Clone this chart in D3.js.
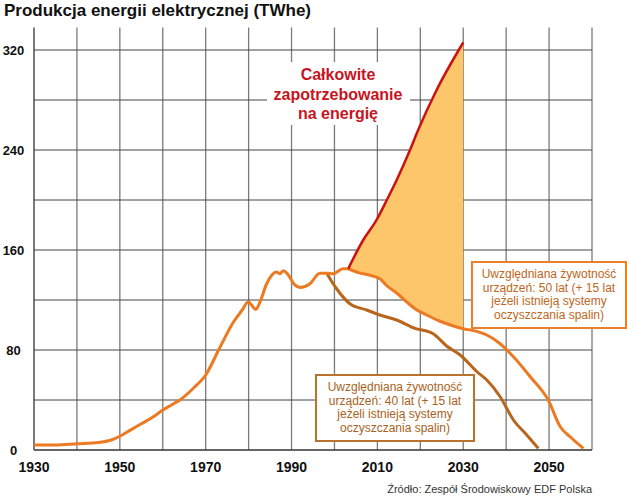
<!DOCTYPE html>
<html><head><meta charset="utf-8">
<script src="https://cdn.jsdelivr.net/npm/d3@7"></script>
<style>body{margin:0;background:#fff}svg{display:block}</style>
</head><body>
<svg id="chart" width="627" height="500"></svg>
<script>
// ---- data ----
const xTicks = [1930, 1950, 1970, 1990, 2010, 2030, 2050];
const yTicks = [0, 80, 160, 240, 320];
const yGrid = [40, 80, 120, 160, 200, 240, 280, 320];
const xGrid = [1940, 1950, 1960, 1970, 1980, 1990, 2000, 2010, 2020, 2030, 2040, 2050, 2060];

const historyYears  = [1930, 1935, 1940, 1945, 1948, 1950, 1952, 1955, 1958, 1960, 1962, 1964, 1967, 1970, 1973.3, 1976.4, 1978.5, 1979.9, 1981.7, 1982.6, 1984.2, 1986.5, 1987.3, 1988.1, 1988.9, 1990.8, 1992, 1994.3, 1996.6, 1998.2, 1999.7, 2002, 2003.2];
const historyValues = [4, 4, 5, 6, 8, 11, 15, 21, 27, 32, 36, 40, 49, 60, 82, 102, 112, 118.5, 112.5, 118, 133, 142.5, 141, 143.5, 141.5, 132, 130, 133, 141.5, 141.5, 141, 145, 145];

const life50Years  = [2003.2, 2006, 2008, 2010.6, 2012, 2014.5, 2016.8, 2019.2, 2021.5, 2024.6, 2027, 2030, 2032.4, 2035.5, 2038.6, 2041.7, 2045.6, 2049.8, 2052.6, 2054.9, 2058];
const life50Values = [145, 141.5, 140, 137, 132, 125.5, 118.5, 112, 108, 103, 100, 97, 95.5, 92, 85, 74.6, 58.6, 40, 18.6, 10.6, 1.3];

const life40Years  = [1998.2, 2000.5, 2003.6, 2007.5, 2010.6, 2014.5, 2018.6, 2023, 2026.2, 2029.3, 2033.2, 2035.5, 2038.6, 2041.7, 2044.8, 2047.5];
const life40Values = [141.5, 129, 117, 112, 108, 104, 97.5, 93, 83, 76, 62.6, 56, 42.6, 24, 12, 1.3];

const demandYears  = [2003.2, 2006.7, 2009.8, 2012.2, 2014.5, 2017.6, 2019.5, 2023.8, 2030];
const demandValues = [145, 168, 184, 200, 216, 240, 256, 288, 326];

const titleText = "Produkcja energii elektrycznej (TWhe)";
const demandLabel = ["Całkowite", "zapotrzebowanie", "na energię"];
const box50Label = ["Uwzględniana żywotność", "urządzeń: 50 lat (+ 15 lat", "jeżeli istnieją systemy", "oczyszczania spalin)"];
const box40Label = ["Uwzględniana żywotność", "urządzeń: 40 lat (+ 15 lat", "jeżeli istnieją systemy", "oczyszczania spalin)"];
const sourceText = "Źródło: Zespół Środowiskowy EDF Polska";

// ---- layout ----
const svg = d3.select("#chart");
const x = d3.scaleLinear().domain([1930, 2060]).range([34, 592]);
const y = d3.scaleLinear().domain([0, 320]).range([450, 50]);
const yTop = 338;
const font = "'Liberation Sans', Arial, sans-serif";

const toPts = (xs, vs) => xs.map((d, i) => [d, vs[i]]);
const line = d3.line().x(d => x(d[0])).y(d => y(d[1])).curve(d3.curveMonotoneX);

// grid
svg.append("g").selectAll("line").data(xGrid).join("line")
  .attr("x1", d => x(d)).attr("x2", d => x(d))
  .attr("y1", y(0)).attr("y2", y(yTop))
  .attr("stroke", "#7a7a7a").attr("stroke-width", 1.3);
svg.append("g").selectAll("line").data(yGrid).join("line")
  .attr("x1", x(1930)).attr("x2", x(2060))
  .attr("y1", d => y(d)).attr("y2", d => y(d))
  .attr("stroke", "#444").attr("stroke-width", 1);

// axes lines
svg.append("line").attr("x1", x(1930)).attr("x2", x(1930)).attr("y1", y(0)).attr("y2", y(yTop))
  .attr("stroke", "#333").attr("stroke-width", 1.3);
svg.append("line").attr("x1", x(1930)).attr("x2", x(2060)).attr("y1", y(0)).attr("y2", y(0))
  .attr("stroke", "#333").attr("stroke-width", 1.3);

// fill between demand and 50-year line
const demandPts = toPts(demandYears, demandValues);
const life50Pts = toPts(life50Years, life50Values);
const lowerPts = life50Pts.filter(d => d[0] >= 2003.2 && d[0] <= 2030);
const fillLine = d3.line().x(d => x(d[0])).y(d => y(d[1])).curve(d3.curveLinear);
const upperPath = line(demandPts);
const lowerPath = line(lowerPts.slice().reverse());
svg.append("path")
  .attr("d", upperPath + "L" + lowerPath.slice(1) + "Z")
  .attr("fill", "#fdc66a").attr("stroke", "none");

// lines
svg.append("path").attr("d", line(toPts(life40Years, life40Values)))
  .attr("fill", "none").attr("stroke", "#b8661c").attr("stroke-width", 3);
svg.append("path").attr("d", line(toPts(historyYears, historyValues)))
  .attr("fill", "none").attr("stroke", "#ec7a22").attr("stroke-width", 3).attr("stroke-linejoin", "round");
svg.append("path").attr("d", line(life50Pts))
  .attr("fill", "none").attr("stroke", "#ec7a22").attr("stroke-width", 3).attr("stroke-linejoin", "round");
svg.append("path").attr("d", line(demandPts))
  .attr("fill", "none").attr("stroke", "#cc1111").attr("stroke-width", 2.5);

// tick labels
svg.append("g").selectAll("text").data(yTicks).join("text")
  .attr("x", 13.5).attr("y", d => y(d) + 5)
  .attr("text-anchor", "middle").attr("font-family", font).attr("font-weight", "bold")
  .attr("font-size", 13).attr("fill", "#111").text(d => d);
svg.append("g").selectAll("text").data(xTicks).join("text")
  .attr("x", d => x(d)).attr("y", 472)
  .attr("text-anchor", "middle").attr("font-family", font).attr("font-weight", "bold")
  .attr("font-size", 14).attr("fill", "#111").text(d => d);

// title
svg.append("text").attr("x", 4).attr("y", 16).attr("font-family", font).attr("font-weight", "bold")
  .attr("font-size", 17).attr("fill", "#111").text(titleText);

// demand label with white background
svg.append("rect").attr("x", 267).attr("y", 62).attr("width", 143).attr("height", 63).attr("fill", "#fff");
svg.append("g").selectAll("text").data(demandLabel).join("text")
  .attr("x", 338).attr("y", (d, i) => 80 + i * 19.5)
  .attr("text-anchor", "middle").attr("font-family", font).attr("font-weight", "bold")
  .attr("font-size", 16).attr("fill", "#c8141e").text(d => d);

// boxes
function box(bx, by, bw, bh, lines, stroke, color, firstBase) {
  svg.append("rect").attr("x", bx).attr("y", by).attr("width", bw).attr("height", bh)
    .attr("fill", "#fff").attr("stroke", stroke).attr("stroke-width", 2);
  svg.append("g").selectAll("text").data(lines).join("text")
    .attr("x", bx + bw / 2).attr("y", (d, i) => firstBase + i * 13.5)
    .attr("text-anchor", "middle").attr("font-family", font)
    .attr("font-size", 12).attr("fill", color).text(d => d);
}
box(472, 262, 154, 66, box50Label, "#e8802e", "#c0661c", 278);
box(316, 375, 158, 66, box40Label, "#b8742e", "#a8621c", 391);

// source
svg.append("text").attr("x", 592).attr("y", 493).attr("text-anchor", "end")
  .attr("font-family", font).attr("font-size", 11).attr("fill", "#333").text(sourceText);
</script>
</body></html>
